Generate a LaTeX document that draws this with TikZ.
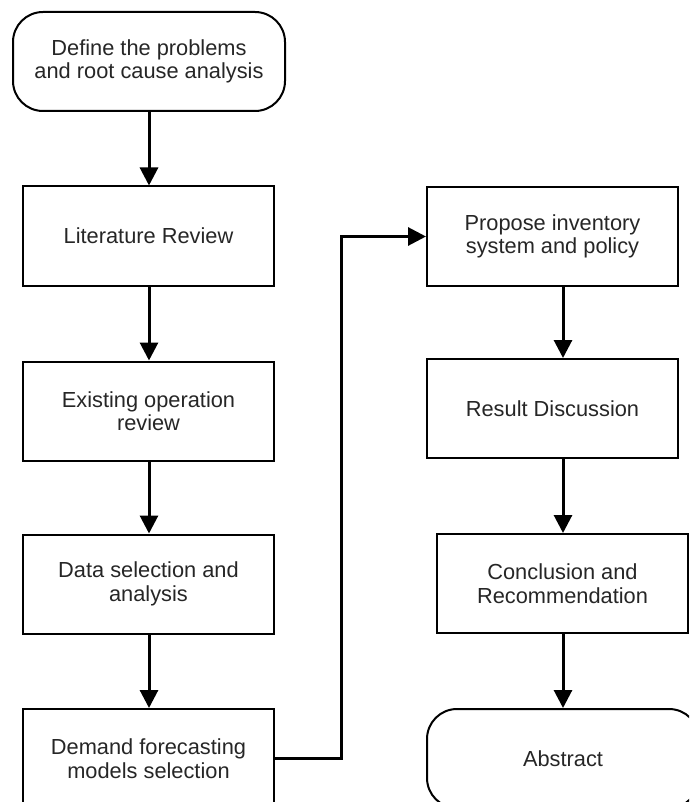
\documentclass[tikz,border=0pt]{standalone}
\usepackage{fontspec}
\setmainfont{Liberation Sans}
\usetikzlibrary{arrows.meta}
\begin{document}
\begin{tikzpicture}[x=1pt,y=-1pt,
  base/.style={draw=black,line width=2pt,align=center,inner sep=0pt,
    font=\fontsize{21.8}{23.5}\selectfont,text=black!85},
  procbox/.style={base,rectangle,minimum width=251pt,minimum height=99pt},
  termbox/.style={base,rectangle,rounded corners=30pt,minimum width=272pt,minimum height=99pt},
  arr/.style={line width=3pt,-{Triangle[length=18pt,width=18pt]}}]
\useasboundingbox (0,0) rectangle (689,802);
\clip (0,0) rectangle (689,802);
\node[termbox] (def) at (149,61.5) {Define the problems\\and root cause analysis};
\node[procbox] (lit) at (148.5,236) {Literature Review};
\node[procbox] (exi) at (148.5,411) {Existing operation\\review};
\node[procbox] (dat) at (148.5,584) {Data selection and\\analysis};
\node[procbox] (dem) at (148.5,758.5) {Demand forecasting\\models selection};
\node[procbox] (pro) at (552.5,236.5) {Propose inventory\\system and policy};
\node[procbox] (res) at (552.5,408.5) {Result Discussion};
\node[procbox] (con) at (562.5,583.5) {Conclusion and\\Recommendation};
\node[termbox] (abs) at (563,758.5) {Abstract};
\coordinate (rc) at (563,0);
\coordinate (lc) at (149,0);
\coordinate (mc) at (341,0);
\draw[arr] (lc |- def.south) -- (lc |- lit.north);
\draw[arr] (lc |- lit.south) -- (lc |- exi.north);
\draw[arr] (lc |- exi.south) -- (lc |- dat.north);
\draw[arr] (lc |- dat.south) -- (lc |- dem.north);
\draw[arr] (dem.east) -- (mc |- dem.east) -- (mc |- pro.west) -- (pro.west);
\draw[arr] (rc |- pro.south) -- (rc |- res.north);
\draw[arr] (rc |- res.south) -- (rc |- con.north);
\draw[arr] (rc |- con.south) -- (rc |- abs.north);
\end{tikzpicture}
\end{document}
